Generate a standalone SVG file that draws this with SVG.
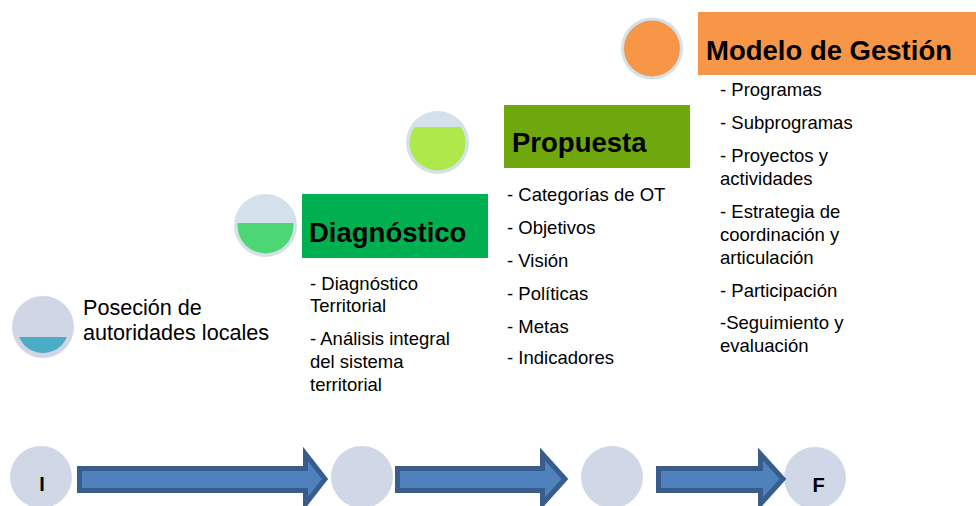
<svg xmlns="http://www.w3.org/2000/svg" width="976" height="506" viewBox="0 0 976 506">
<style>
.t{font-family:"Liberation Sans",Arial,sans-serif;font-size:18.5px;fill:#000}
.h{font-family:"Liberation Sans",Arial,sans-serif;font-size:27.5px;font-weight:bold;fill:#000}
.lbl{font-family:"Liberation Sans",Arial,sans-serif;font-size:20px;font-weight:bold;fill:#000}
.node{fill:#D0D8E8}
.arrow{fill:#4F81BD;stroke:#385D8A;stroke-width:5;stroke-linejoin:miter}
</style>
<defs>
<clipPath id="c1"><rect x="0" y="337" width="100" height="40"/></clipPath>
<clipPath id="c2"><rect x="220" y="223" width="100" height="50"/></clipPath>
<clipPath id="c3"><rect x="400" y="127" width="80" height="60"/></clipPath>
</defs>
<rect width="976" height="506" fill="#fff"/>

<g id="stage-posecion">
<circle cx="43" cy="327" r="31" fill="#D0D6E6"/>
<circle cx="43" cy="327" r="26" fill="#4BACC6" clip-path="url(#c1)"/>
<text class="t" x="83" y="315" style="font-size:21.6px">Poseción de</text>
<text class="t" x="83" y="340" style="font-size:21.6px">autoridades locales</text>
</g>

<g id="stage-diagnostico">
<circle cx="265.5" cy="225.5" r="31.5" fill="#D3E2EA"/>
<circle cx="265.5" cy="225.5" r="28" fill="#4CD774" clip-path="url(#c2)"/>
<rect x="302" y="194" width="186" height="64" fill="#00B050"/>
<text class="h" x="309" y="242">Diagnóstico</text>
<text class="t" x="310" y="290">- Diagnóstico</text>
<text class="t" x="310" y="312">Territorial</text>
<text class="t" x="310" y="345">- Análisis integral</text>
<text class="t" x="310" y="368">del sistema</text>
<text class="t" x="310" y="391">territorial</text>
</g>

<g id="stage-propuesta">
<circle cx="437.5" cy="142.5" r="31.5" fill="#D3E2EA"/>
<circle cx="437.5" cy="142.5" r="28" fill="#AEE84A" clip-path="url(#c3)"/>
<rect x="504" y="105" width="186" height="63" fill="#6FA80C"/>
<text class="h" x="512" y="152">Propuesta</text>
<text class="t" x="507" y="201">- Categorías de OT</text>
<text class="t" x="507" y="234">- Objetivos</text>
<text class="t" x="507" y="267">- Visión</text>
<text class="t" x="507" y="300">- Políticas</text>
<text class="t" x="507" y="333">- Metas</text>
<text class="t" x="507" y="364">- Indicadores</text>
</g>

<g id="stage-modelo">
<circle cx="652" cy="48.5" r="31" fill="#D3E2EA"/>
<circle cx="652" cy="48.5" r="28" fill="#F79646"/>
<rect x="698" y="12" width="278" height="63" fill="#F79646"/>
<text class="h" x="706" y="60">Modelo de Gestión</text>
<text class="t" x="720" y="96">- Programas</text>
<text class="t" x="720" y="129">- Subprogramas</text>
<text class="t" x="720" y="162">- Proyectos y</text>
<text class="t" x="720" y="185">actividades</text>
<text class="t" x="720" y="218">- Estrategia de</text>
<text class="t" x="720" y="241">coordinación y</text>
<text class="t" x="720" y="264">articulación</text>
<text class="t" x="720" y="297">- Participación</text>
<text class="t" x="720" y="329">-Seguimiento y</text>
<text class="t" x="720" y="352">evaluación</text>
</g>

<g id="node-i">
<circle class="node" cx="41" cy="477" r="31"/>
<text class="lbl" x="42" y="491" text-anchor="middle">I</text>
</g>
<g id="node-2">
<circle class="node" cx="362" cy="477" r="31"/>
</g>
<g id="node-3">
<circle class="node" cx="612" cy="477" r="31"/>
</g>
<g id="node-f">
<circle class="node" cx="815" cy="478" r="31"/>
<text class="lbl" x="818.5" y="492" text-anchor="middle">F</text>
</g>

<g id="connectors">
<path class="arrow" d="M79.5,468.5 H305.5 V454 L325,479 L305.5,504 V490.5 H79.5 Z"/>
<path class="arrow" d="M397.5,468.5 H542.5 V454 L565,479 L542.5,504 V490.5 H397.5 Z"/>
<path class="arrow" d="M658.5,468.5 H760.5 V454 L783,479 L760.5,504 V490.5 H658.5 Z"/>
</g>
</svg>
